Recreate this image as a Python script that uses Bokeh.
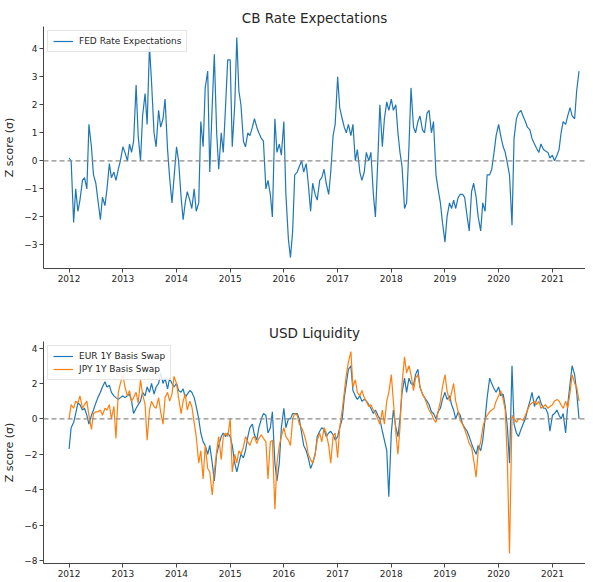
import pandas as pd
from datetime import datetime
from bokeh.plotting import figure
from bokeh.models import (ColumnDataSource, Range1d, Span, FixedTicker,
                          DatetimeTickFormatter, Legend, LegendItem)
from bokeh.layouts import column
from bokeh.embed import file_html
from bokeh.resources import INLINE

# ---------------- data (semi-monthly readings, 2012-01-01 .. 2021-07-01) ----------------
fed_2012 = [0.1, 0.0, -2.2, -1.0, -1.8, -1.4, -0.7, -0.6, -1.0, 1.3, 0.5, -0.5,
            -0.8, -1.4, -2.1, -1.3, -1.6, -1.0, -0.1, -0.6, -0.4, -0.7, -0.3, 0.0]
fed_2013 = [0.5, 0.3, 0.0, 0.6, 0.3, 0.7, 2.7, 0.9, 0.0, 1.6, 2.4, 1.3,
            4.1, 2.8, 1.0, 0.5, 1.8, 1.2, 1.5, 2.2, 0.4, -0.6, -1.5, -0.6]
fed_2014 = [0.5, 0.0, -1.3, -2.1, -1.5, -1.1, -1.4, -1.7, -1.0, -1.8, -1.5, 1.4,
            0.5, 2.6, 3.2, -0.4, 2.0, 3.8, 1.0, -0.3, 1.0, 0.3, 2.0, 3.6]
fed_2015 = [3.6, 0.5, 2.0, 4.4, 2.5, 2.0, 0.7, 0.5, 1.0, 0.9, 1.2, 1.5,
            1.2, 1.0, 0.8, 0.7, -1.0, -0.7, -1.2, -2.0, 1.5, 0.3, 0.6, 0.2]
fed_2016 = [1.4, -1.2, -2.8, -3.45, -2.5, -0.5, -0.4, -0.2, 0.0, -0.4, -0.1, -0.8,
            -1.8, -0.8, -1.2, -1.4, -0.7, -0.6, -0.3, -0.8, -1.2, -0.4, 0.9, 1.3]
fed_2017 = [3.0, 1.9, 1.5, 1.2, 1.0, 1.3, 0.9, 1.3, 0.0, 0.4, -0.4, -0.7,
            -0.4, 0.3, 0.0, 0.3, -1.2, -2.0, 0.0, 2.0, 0.5, 1.5, 2.1, 1.8]
fed_2018 = [2.2, 1.8, 2.0, 1.0, 0.3, -0.2, -1.7, -1.5, 0.5, 2.6, 1.2, 1.0,
            1.4, 1.6, 1.1, 1.0, 1.7, 1.8, 1.0, 1.4, -0.5, -1.0, -1.5, -2.2]
fed_2019 = [-2.9, -2.0, -1.5, -1.7, -1.4, -1.7, -1.3, -1.2, -1.2, -1.3, -2.0, -2.5,
            -1.1, -0.8, -1.3, -2.0, -2.5, -1.5, -1.8, -0.5, -0.5, -0.3, 0.3, 0.9]
fed_2020 = [1.3, 0.9, 0.5, 0.3, -0.1, -0.5, -2.3, 0.8, 1.5, 1.7, 1.8, 1.6,
            1.4, 1.2, 1.1, 0.8, 0.6, 0.45, 0.3, 0.6, 0.4, 0.35, 0.3, 0.1]
fed_2021 = [0.2, 0.0, 0.2, 0.4, 1.0, 1.4, 1.3, 1.6, 1.9, 1.6, 1.5, 2.5, 3.2]

eur_2012 = [-1.7, -0.5, -0.2, 0.3, 0.9, 0.8, 0.5, 0.6, 0.2, -0.3, 0.2, 0.5,
            0.9, 1.2, 1.5, 1.8, 2.1, 1.8, 1.9, 1.5, 1.3, 1.2, 1.1, 1.2]
eur_2013 = [1.3, 1.2, 1.3, 1.4, 1.0, 0.3, 0.6, 0.8, 1.0, 1.5, 1.3, 1.8,
            1.5, 2.0, 1.4, 1.8, 2.0, 2.6, 2.0, 2.3, 1.7, 2.3, 2.0, 1.8]
eur_2014 = [2.0, 1.6, 1.5, 1.7, 1.2, 1.4, 1.6, 1.5, 1.2, 0.7, 0.0, -0.8,
            -1.3, -1.5, -2.0, -1.5, -2.5, -3.5, -2.0, -1.5, -1.0, -0.8, -1.0, -0.8]
eur_2015 = [-1.0, -1.5, -2.5, -3.0, -2.5, -2.0, -2.2, -1.8, -1.0, -0.5, -0.3, -0.9,
            -1.2, -0.5, 0.0, 0.3, 0.2, -0.8, -0.5, 0.4, -2.5, -3.5, -2.5, -0.5]
eur_2016 = [0.6, -0.5, 0.0, 0.0, 0.3, 0.3, 0.3, 0.0, -0.8, -1.5, -1.8, -2.2,
            -2.8, -2.5, -2.0, -1.0, -0.7, -0.5, -0.6, -1.0, -0.8, -0.7, -0.9, -1.2]
eur_2017 = [-1.0, -0.5, 0.0, 1.2, 2.0, 2.8, 3.0, 1.6, 1.3, 1.1, 1.3, 1.0,
            1.1, 1.0, 0.8, 0.6, 0.3, 0.5, 0.2, 0.0, -0.7, -1.2, -1.8, -4.4]
eur_2018 = [-0.8, 0.5, -0.5, -1.0, 0.0, 1.5, 2.3, 1.5, 2.3, 2.0, 1.9, 2.5,
            2.8, 1.8, 1.4, 1.2, 1.0, 0.8, 0.4, 0.3, 0.0, 0.4, 0.6, 1.1]
eur_2019 = [1.5, 1.1, 1.3, 0.8, 0.5, 0.0, 0.4, 0.2, -0.3, -0.5, -0.7, -1.0,
            -1.4, -1.7, -2.0, -1.5, -1.8, -1.2, 0.0, 1.2, 2.3, 2.0, 1.7, 1.5]
eur_2020 = [1.8, 1.3, 1.4, 0.7, -0.5, -2.5, 3.0, -0.3, -0.8, -1.0, -0.6, -0.3,
            0.0, 0.5, 1.0, 1.5, 0.7, 1.1, 1.3, 0.9, 0.6, 0.6, 0.3, -0.7]
eur_2021 = [0.2, 0.3, 0.5, 0.2, 0.0, 0.3, -0.8, 0.8, 2.0, 3.0, 2.5, 1.5, 0.0]

jpy_2012 = [0.0, 0.8, 0.6, 1.0, 0.9, 1.3, 0.6, 0.8, 1.0, 0.2, -0.6, 0.3,
            0.4, 0.4, 0.5, 0.2, 0.6, 0.5, 0.8, 0.0, 0.7, -1.1, 1.5, 2.0]
jpy_2013 = [2.5, 1.8, 1.3, 1.6, 1.0, 1.2, 1.5, 0.9, 2.2, 1.4, 0.8, -1.2,
            0.5, 1.0, 0.7, 0.6, 1.2, 0.4, -0.3, 1.2, 1.5, 1.0, 1.4, 2.4]
jpy_2014 = [2.0, 1.2, 0.3, 1.0, 1.4, 0.5, 1.0, 0.7, -0.2, -1.0, -2.5, -1.8,
            -3.4, -1.5, -2.8, -3.0, -4.3, -3.0, -1.8, -1.0, -2.3, -1.0, -0.8, -1.0]
jpy_2015 = [0.0, -3.0, -2.0, -2.5, -1.8, -2.0, -1.6, -1.0, -1.3, -1.5, -1.1, -1.0,
            -1.4, -1.1, -0.9, -1.1, -1.3, -3.4, -1.3, -1.2, -5.1, -2.5, -1.5, -1.0]
jpy_2016 = [-0.5, -1.0, -1.2, -1.5, 0.0, 0.3, 0.2, -0.3, -0.5, -0.8, -1.3, -2.0,
            -2.3, -2.5, -2.0, -1.2, -0.8, -1.3, -0.5, -0.8, -1.5, -2.5, -1.0, -0.8]
jpy_2017 = [-2.2, -0.5, 0.5, 1.5, 2.5, 3.2, 3.8, 1.8, 2.2, 1.5, 1.3, 1.6,
            1.2, 1.0, 0.7, 0.8, 0.5, 0.3, 0.0, -0.3, 0.5, -0.3, 1.0, 1.5]
jpy_2018 = [2.5, 1.0, -0.8, -2.0, -0.5, 2.0, 3.5, 2.6, 3.0, 2.5, 1.6, 2.3,
            2.5, 1.8, 1.4, 1.2, 0.8, 0.5, 0.3, 0.0, -0.2, 0.4, 1.0, 1.8]
jpy_2019 = [2.5, 1.6, 1.0, 1.5, 2.0, 1.0, 0.4, -0.1, -0.3, -0.6, -1.0, -1.4,
            -1.6, -2.3, -3.3, -1.8, -1.3, -0.5, 0.0, 0.2, 0.4, 0.5, 0.6, 1.0]
jpy_2020 = [1.3, 1.6, 1.1, 0.5, -2.5, -7.6, 0.2, 0.0, -0.2, 0.0, 0.0, -0.1,
            0.2, 0.5, 0.8, 0.9, 1.0, 0.8, 1.0, 0.6, 0.7, 0.8, 0.6, 0.7]
jpy_2021 = [0.8, 1.0, 1.1, 1.0, 0.8, 0.6, 1.0, 0.6, 1.5, 2.5, 2.0, 1.8, 1.0]

tick_years = [2012, 2013, 2014, 2015, 2016, 2017, 2018, 2019, 2020, 2021]
top_yticks = [-3, -2, -1, 0, 1, 2, 3, 4]
bot_yticks = [-8, -6, -4, -2, 0, 2, 4]

fed = (fed_2012 + fed_2013 + fed_2014 + fed_2015 + fed_2016 + fed_2017 +
       fed_2018 + fed_2019 + fed_2020 + fed_2021)
eur = (eur_2012 + eur_2013 + eur_2014 + eur_2015 + eur_2016 + eur_2017 +
       eur_2018 + eur_2019 + eur_2020 + eur_2021)
jpy = (jpy_2012 + jpy_2013 + jpy_2014 + jpy_2015 + jpy_2016 + jpy_2017 +
       jpy_2018 + jpy_2019 + jpy_2020 + jpy_2021)
dates = pd.date_range("2012-01-01", periods=len(fed), freq="SMS")

src = ColumnDataSource(dict(date=dates, fed=fed, eur=eur, jpy=jpy))

FONT = "DejaVu Sans"
TXT = "#262626"
BLUE = "#1f77b4"
ORANGE = "#ff7f0e"

xticks = [pd.Timestamp(f"{y}-01-01").timestamp() * 1000 for y in tick_years]
fmt = DatetimeTickFormatter(years="%Y", months="%Y", days="%Y", hours="%Y")


def style(p, yticks):
    p.outline_line_color = None
    p.xgrid.grid_line_color = None
    p.ygrid.grid_line_color = None
    p.xaxis.ticker = FixedTicker(ticks=xticks)
    p.xaxis.formatter = fmt
    p.yaxis.ticker = FixedTicker(ticks=yticks)
    p.yaxis.major_label_overrides = {t: str(t).replace("-", "\u2212") for t in yticks}
    for ax in (p.xaxis[0], p.yaxis[0]):
        ax.axis_line_color = "#444444"
        ax.major_tick_line_color = "#444444"
        ax.major_tick_out = 4
        ax.major_tick_in = 0
        ax.minor_tick_out = 0
        ax.minor_tick_in = 0
        ax.major_label_text_font = FONT
        ax.major_label_text_font_size = "9px"
        ax.major_label_text_color = TXT
        ax.major_label_standoff = 2
    p.yaxis.axis_label = "Z score (\u03c3)"
    p.yaxis.axis_label_text_font = FONT
    p.yaxis.axis_label_text_font_size = "11px"
    p.yaxis.axis_label_text_font_style = "normal"
    p.yaxis.axis_label_text_color = TXT
    p.yaxis.axis_label_standoff = 5
    p.title.align = "center"
    p.title.text_font = FONT
    p.title.text_font_size = "13.5px"
    p.title.text_font_style = "normal"
    p.title.text_color = TXT
    p.title.offset = 8
    p.title.standoff = 2
    p.add_layout(Span(location=0, dimension="width", line_color="#8a8a8a",
                      line_dash="5 3", line_width=1.2))


def make_legend(items):
    lg = Legend(items=items, location="top_left")
    lg.label_text_font = FONT
    lg.label_text_font_size = "9px"
    lg.label_text_color = TXT
    lg.glyph_width = 20
    lg.glyph_height = 10
    lg.label_height = 10
    lg.label_standoff = 6
    lg.spacing = 3
    lg.padding = 5
    lg.margin = 4
    lg.border_line_color = "#cccccc"
    lg.border_line_width = 1
    lg.background_fill_alpha = 0.85
    return lg


x_start = datetime(2011, 7, 11)
x_end = datetime(2021, 8, 14)

p1 = figure(frame_width=542, frame_height=242, output_backend="svg", toolbar_location=None,
            x_axis_type="datetime", title="CB Rate Expectations",
            x_range=Range1d(x_start, x_end), y_range=Range1d(-3.84, 4.79),
            min_border_left=35, min_border_right=0, min_border_top=26,
            min_border_bottom=34)
style(p1, top_yticks)
r_fed = p1.line("date", "fed", source=src, line_color=BLUE, line_width=1.2)
p1.add_layout(make_legend([LegendItem(label="FED Rate Expectations", renderers=[r_fed])]))

p2 = figure(frame_width=542, frame_height=222, output_backend="svg", toolbar_location=None,
            x_axis_type="datetime", title="USD Liquidity",
            x_range=Range1d(x_start, x_end), y_range=Range1d(-8.17, 4.37),
            min_border_left=35, min_border_right=0, min_border_top=39,
            min_border_bottom=16)
style(p2, bot_yticks)
r_eur = p2.line("date", "eur", source=src, line_color=BLUE, line_width=1.2)
r_jpy = p2.line("date", "jpy", source=src, line_color=ORANGE, line_width=1.2)
p2.add_layout(make_legend([LegendItem(label="EUR 1Y Basis Swap", renderers=[r_eur]),
                           LegendItem(label="JPY 1Y Basis Swap", renderers=[r_jpy])]))

layout = column(p1, p2, spacing=0)
open("out.html", "w").write(file_html(layout, INLINE))
